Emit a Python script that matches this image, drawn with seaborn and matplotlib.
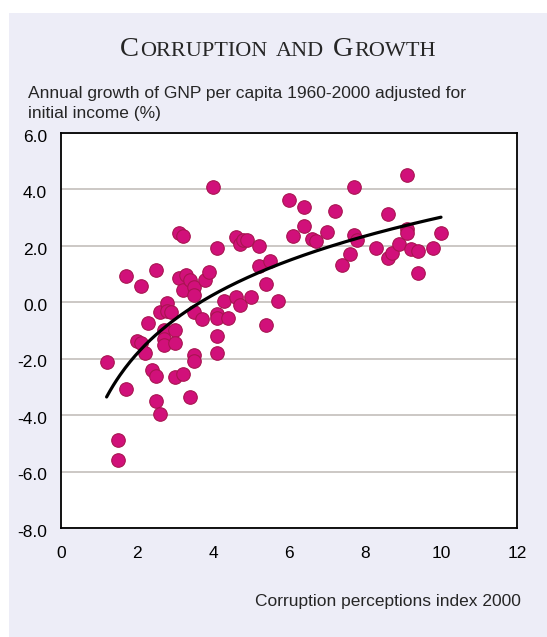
import numpy as np
import pandas as pd
import matplotlib.pyplot as plt
import matplotlib.transforms as mtransforms
import seaborn as sns
from matplotlib.patches import Rectangle

# Corruption perceptions index 2000 (x) and adjusted GNP growth (y)
cpi = [1.2, 1.5, 1.5, 1.7, 1.7, 2.0, 2.1, 2.1, 2.2, 2.3,
       2.4, 2.5, 2.5, 2.5, 2.6, 2.6, 2.7, 2.7, 2.7, 2.8,
       2.8, 2.9, 3.0, 3.0, 3.0, 3.1, 3.1, 3.2, 3.2, 3.2,
       3.3, 3.4, 3.4, 3.5, 3.5, 3.5, 3.5, 3.5, 3.7, 3.8,
       3.9, 4.0, 4.1, 4.1, 4.1, 4.1, 4.1, 4.3, 4.4, 4.6,
       4.6, 4.7, 4.7, 4.8, 4.9, 5.0, 5.2, 5.2, 5.4, 5.4,
       5.5, 5.7, 6.0, 6.1, 6.4, 6.4, 6.6, 6.7, 7.0, 7.2,
       7.4, 7.6, 7.7, 7.7, 7.8, 8.3, 8.6, 8.6, 8.7, 8.9,
       9.1, 9.1, 9.1, 9.2, 9.4, 9.4, 9.8, 10.0]
growth = [-2.12, -4.87, -5.58, 0.93, -3.06, -1.38, -1.44, 0.57, -1.78, -0.73,
          -2.41, -2.61, 1.14, -3.50, -3.95, -0.35, -0.98, -1.30, -1.52, -0.01,
          -0.32, -0.34, -0.98, -1.46, -2.65, 0.87, 2.44, 2.34, 0.45, -2.55,
          0.98, 0.78, -3.36, 0.54, 0.27, -0.36, -1.86, -2.09, -0.58, 0.78,
          1.06, 4.07, 1.93, -0.42, -0.54, -1.20, -1.79, 0.05, -0.56, 2.33,
          0.19, 2.05, -0.09, 2.21, 2.22, 0.18, 2.00, 1.29, 0.64, -0.79,
          1.45, 0.06, 3.62, 2.35, 3.38, 2.72, 2.23, 2.16, 2.49, 3.23,
          1.31, 1.70, 4.07, 2.39, 2.19, 1.93, 3.12, 1.58, 1.76, 2.06,
          4.50, 2.61, 2.46, 1.90, 1.83, 1.04, 1.94, 2.45]

x_ticks = [0, 2, 4, 6, 8, 10, 12]
y_ticks = [-8, -6, -4, -2, 0, 2, 4, 6]
y_tick_labels = ['-8.0', '-6.0', '-4.0', '-2.0', '0.0', '2.0', '4.0', '6.0']

W, H = 547, 637
sns.set_style('white')
plt.rcParams['font.family'] = ['Liberation Sans', 'DejaVu Sans']

fig = plt.figure(figsize=(W / 100, H / 100), dpi=100)
fig.patch.set_facecolor('white')
fig.add_artist(Rectangle((9 / W, 0), 1 - 9 / W, 1 - 13 / H, transform=fig.transFigure,
                         facecolor='#EDEDF7', edgecolor='none', zorder=0))

ax = fig.add_axes([61 / W, 1 - 528 / H, 456 / W, 395 / H])
ax.set_facecolor('white')

df = pd.DataFrame({'cpi': cpi, 'growth': growth})

# logarithmic trend line fitted to the points
b, a = np.polyfit(np.log(df['cpi']), df['growth'], 1)
xs = np.linspace(df['cpi'].min(), df['cpi'].max(), 200)
trend = pd.DataFrame({'cpi': xs, 'growth': a + b * np.log(xs)})

sns.scatterplot(data=df, x='cpi', y='growth', s=95, color='#D1107A',
                edgecolor='#A81450', linewidth=0.8, ax=ax, zorder=3)
sns.lineplot(data=trend, x='cpi', y='growth', color='black', linewidth=2.3, ax=ax, zorder=4)

ax.set_xlim(0, 12)
ax.set_ylim(-8, 6)
ax.set_xticks(x_ticks)
ax.set_yticks(y_ticks)
ax.set_yticklabels(y_tick_labels)
ax.set_xlabel('')
ax.set_ylabel('')
ax.yaxis.grid(True, color='#C8C4C0', linewidth=1.3)
ax.set_axisbelow(True)
for sp in ax.spines.values():
    sp.set_visible(True)
    sp.set_color('black')
    sp.set_linewidth(1.3)
ax.tick_params(axis='both', direction='out', length=4, width=1, color='black',
               labelsize=12.5, labelcolor='black')
ax.tick_params(axis='x', pad=9)
ax.tick_params(axis='y', pad=6)

# y tick labels sit a little below their gridlines in the original
shift = mtransforms.ScaledTranslation(0, -2 / 72, fig.dpi_scale_trans)
for lab in ax.get_yticklabels():
    lab.set_transform(lab.get_transform() + shift)

# axis titles
fig.text(28 / W, 1 - 98 / H, 'Annual growth of GNP per capita 1960-2000 adjusted for',
         fontsize=12.5, va='baseline', ha='left')
fig.text(28 / W, 1 - 118 / H, 'initial income (%)', fontsize=12.5, va='baseline', ha='left')
fig.text(521 / W, 1 - 606 / H, 'Corruption perceptions index 2000',
         fontsize=12.5, va='baseline', ha='right')

# small-caps title
title_parts = [('C', 20.5), ('ORRUPTION', 16), (' ', 0), ('AND', 16), (' ', 0),
               ('G', 20.5), ('ROWTH', 16)]
renderer = fig.canvas.get_renderer()
ty = 1 - 56 / H
objs = []
total = 0
for s, size in title_parts:
    if s == ' ':
        objs.append((None, 7))
        total += 7
        continue
    t = fig.text(0, ty, s, fontsize=size, family='Liberation Serif', va='baseline', ha='left')
    w = t.get_window_extent(renderer).width
    objs.append((t, w))
    total += w
x = 275 - total / 2
for t, w in objs:
    if t is not None:
        t.set_x(x / W)
    x += w + 1

fig.savefig('out.png', dpi=100)
